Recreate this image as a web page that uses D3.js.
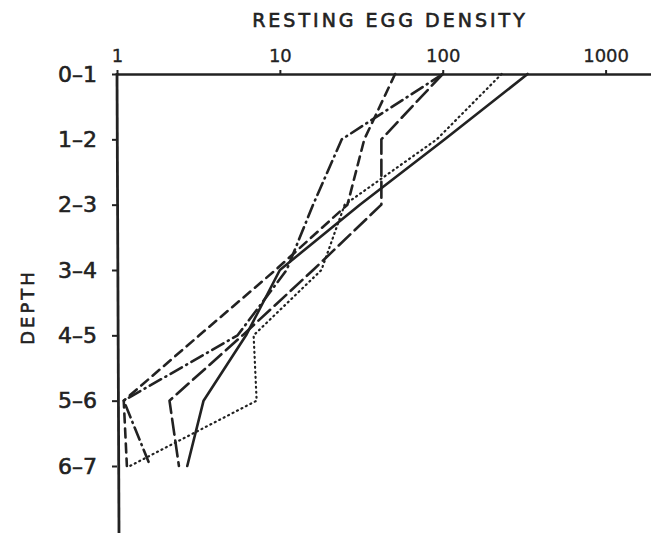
<!DOCTYPE html>
<html>
<head>
	<title>Resting Egg Density</title>
	<script src="https://d3js.org/d3.v7.min.js" charset="utf-8"></script>
	<style>
		body { margin: 0; background: #fff; }
		text { font-family: "DejaVu Sans", sans-serif; fill: #222; }
	</style>
</head>
<body>
	<svg width="651" height="533"></svg>
	<script>
		// depth classes (top to bottom) and axis ticks
		var depths = ['0–1', '1–2', '2–3', '3–4', '4–5', '5–6', '6–7'];
		var xTicks = [1, 10, 100, 1000];

		// egg density per depth, one array per core
		var solid = [332, 103, 31, 10, 6.2, 3.4, 2.7];
		var dotted = [230, 92, 25, 18, 6.9, 7.2, 1.2];
		var dashed = [51, 33, 26, 9.4, 3.2, 1.1, 1.15];
		var dashDot = [100, 24, 16, 11, 5.5, 1.1, 1.6];
		var longDash = [100, 42, 42, 16, 5.9, 2.1, 2.4];

		var series = [
			{ vals: solid, dash: null, w: 2.6 },
			{ vals: dotted, dash: '1,4', w: 2.2 },
			{ vals: dashed, dash: '9,6', w: 2.6 },
			{ vals: dashDot, dash: '13,5,1,5', w: 2.6 },
			{ vals: longDash, dash: '16,6', w: 2.6 }
		];

		var svg = d3.select('svg');

		const x = d3.scaleLog()
			.domain([1, 1900])
			.range([117, 651]);

		const y = d3.scalePoint()
			.domain(depths)
			.range([74, 466]);

		// top axis
		const xAxis = svg.append('g')
			.attr('transform', 'translate(0,74)')
			.call(d3.axisTop(x).tickValues(xTicks).tickFormat(d3.format('d')).tickSize(4).tickSizeOuter(0));
		xAxis.select('.domain').attr('stroke', '#222').attr('stroke-width', 2.5);
		xAxis.selectAll('.tick line').attr('stroke', '#222').attr('stroke-width', 2);
		xAxis.selectAll('.tick text')
			.attr('y', -12)
			.style('font-size', '18px')
			.style('font-family', '"DejaVu Sans", sans-serif')
			.attr('fill', '#222')
			.attr('stroke', '#222').attr('stroke-width', 0.3);

		// left axis
		const yAxis = svg.append('g')
			.attr('transform', 'translate(117,0)')
			.call(d3.axisLeft(y).tickSize(5).tickPadding(15));
		yAxis.select('.domain').remove();
		yAxis.selectAll('.tick line').attr('stroke', '#222').attr('stroke-width', 2);
		yAxis.selectAll('.tick text')
			.style('font-size', '22px')
			.style('font-family', '"DejaVu Sans", sans-serif')
			.attr('fill', '#222')
			.attr('stroke', '#222').attr('stroke-width', 0.6);
		svg.append('line')
			.attr('x1', 117).attr('x2', 119)
			.attr('y1', 73).attr('y2', 533)
			.attr('stroke', '#222').attr('stroke-width', 2.8);

		// titles
		svg.append('text')
			.attr('x', 390).attr('y', 27)
			.attr('text-anchor', 'middle')
			.style('font-size', '19px')
			.style('letter-spacing', '3px')
			.attr('stroke', '#222').attr('stroke-width', 0.6)
			.text('RESTING EGG DENSITY');

		svg.append('text')
			.attr('transform', 'translate(34,307) rotate(-90)')
			.attr('text-anchor', 'middle')
			.style('font-size', '18px')
			.style('letter-spacing', '3px')
			.attr('stroke', '#222').attr('stroke-width', 0.6)
			.text('DEPTH');

		// the five profiles
		var line = d3.line()
			.x(function(d) { return x(d) })
			.y(function(d, i) { return y(depths[i]) });

		svg.selectAll('.prof')
			.data(series)
			.enter()
			.append('path')
			.attr('class', 'prof')
			.attr('d', function(d) { return line(d.vals) })
			.attr('fill', 'none')
			.attr('stroke', '#222')
			.attr('stroke-width', function(d) { return d.w })
			.attr('stroke-linecap', 'round')
			.attr('stroke-linejoin', 'round')
			.attr('stroke-dasharray', function(d) { return d.dash });
	</script>
</body>
</html>
